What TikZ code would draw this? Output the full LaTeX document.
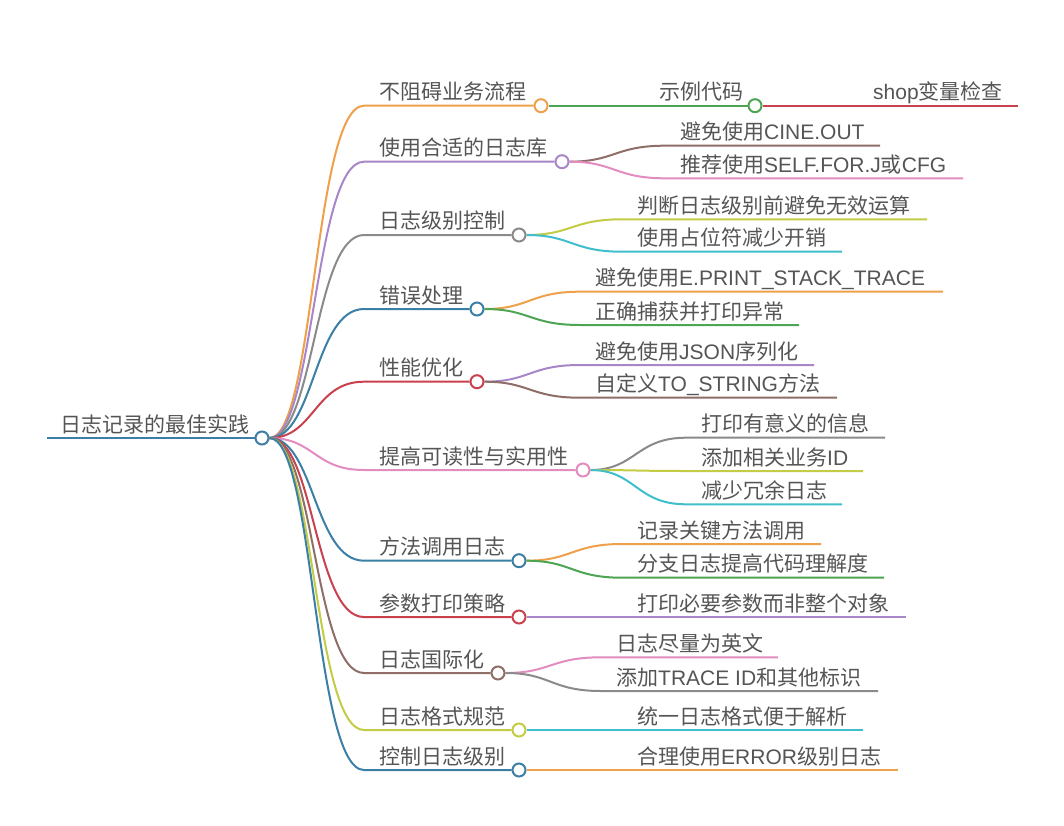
\documentclass[tikz,border=0pt]{standalone}
\usepackage{fontspec}
\setmainfont{Noto Sans CJK SC}
\newfontfamily\latinfont{Liberation Sans}
\newcommand\lat[1]{{\latinfont #1}}
\definecolor{mmblue}{HTML}{3C7FA6}
\definecolor{mmorange}{HTML}{EFA04A}
\definecolor{mmpurple}{HTML}{A887C9}
\definecolor{mmgray}{HTML}{8A8A8A}
\definecolor{mmred}{HTML}{C8414D}
\definecolor{mmpink}{HTML}{E38CC0}
\definecolor{mmbrown}{HTML}{8E6E66}
\definecolor{mmygreen}{HTML}{C3CC45}
\definecolor{mmcyan}{HTML}{3FBFCC}
\definecolor{mmgreen}{HTML}{4DA553}
\definecolor{txt}{HTML}{555555}
\pgfdeclarelayer{bg}
\pgfdeclarelayer{paper}
\pgfsetlayers{paper,bg,main}
\tikzset{
  lbl/.style={anchor=base west, inner sep=0pt, text=txt, font=\fontsize{21}{25}\selectfont},
  circ/.style={circle, minimum size=13pt, inner sep=0pt, line width=2pt, fill=white},
  conn/.style={line width=2pt},
}
% internal node: name, parent, colour, start x, y, circle x, text
\newcommand\mmnode[7]{%
  \coordinate (#1s) at (#4,#5);
  \node[lbl] (#1t) at (#4+15,#5-6) {#7};
  \node[circ,draw=#3] (#1) at (#6,#5) {};
  \begin{pgfonlayer}{bg}
    \draw[conn,#3] (#2.east) .. controls +(45,0) and +(-50,0) .. (#1s) -- (#1.west);
  \end{pgfonlayer}}
% leaf: name, parent, colour, start x, y, end x, text
\newcommand\mmleaf[7]{%
  \coordinate (#1s) at (#4,#5);
  \coordinate (#1e) at (#6,#5);
  \node[lbl] (#1t) at (#4+15,#5-6) {#7};
  \begin{pgfonlayer}{bg}
    \draw[conn,#3] (#2.east) .. controls +(45,0) and +(-50,0) .. (#1s) -- (#1e);
  \end{pgfonlayer}}
\begin{document}
\begin{tikzpicture}[x=1pt,y=-1pt]
\begin{pgfonlayer}{paper}
  \fill[white] (0,0) rectangle (1064,826);
\end{pgfonlayer}
\useasboundingbox (0,0) rectangle (1064,826);
% root
\coordinate (rs) at (47,438);
\node[lbl] (rt) at (60,432) {日志记录的最佳实践};
\node[circ,draw=mmblue] (r) at (262,438) {};
\begin{pgfonlayer}{bg}
  \draw[conn,mmblue] (rs) -- (r.west);
\end{pgfonlayer}
% level 1
\mmnode{a}{r}{mmorange}{364}{105.7}{541}{不阻碍业务流程}
\mmnode{b}{r}{mmpurple}{364}{161.7}{562}{使用合适的日志库}
\mmnode{c}{r}{mmgray}{364}{235}{519}{日志级别控制}
\mmnode{d}{r}{mmblue}{364}{309}{477}{错误处理}
\mmnode{e}{r}{mmred}{364}{381.7}{477}{性能优化}
\mmnode{f}{r}{mmpink}{364}{470}{583}{提高可读性与实用性}
\mmnode{g}{r}{mmblue}{364}{560.7}{519}{方法调用日志}
\mmnode{h}{r}{mmred}{364}{617}{519}{参数打印策略}
\mmnode{i}{r}{mmbrown}{364}{673}{498}{日志国际化}
\mmnode{j}{r}{mmygreen}{364}{730}{519}{日志格式规范}
\mmnode{k}{r}{mmblue}{364}{770}{519}{控制日志级别}
% level 2 and 3
\mmnode{aa}{a}{mmgreen}{644}{105.7}{755}{示例代码}
\mmleaf{aaa}{aa}{mmred}{858}{105.7}{1018}{\lat{shop}变量检查}
\mmleaf{ba}{b}{mmbrown}{665}{145.7}{880}{避免使用\lat{CINE.OUT}}
\mmleaf{bb}{b}{mmpink}{665}{178.3}{963}{推荐使用\lat{SELF.FOR.J}或\lat{CFG}}
\mmleaf{ca}{c}{mmygreen}{622}{219.3}{927}{判断日志级别前避免无效运算}
\mmleaf{cb}{c}{mmcyan}{622}{251.7}{842}{使用占位符减少开销}
\mmleaf{da}{d}{mmorange}{580}{291.7}{943}{避免使用\lat{E.PRINT\_STACK\_TRACE}}
\mmleaf{db}{d}{mmgreen}{580}{325}{799}{正确捕获并打印异常}
\mmleaf{ea}{e}{mmpurple}{580}{365}{814}{避免使用\lat{JSON}序列化}
\mmleaf{eb}{e}{mmbrown}{580}{397.7}{837}{自定义\lat{TO\_STRING}方法}
\mmleaf{fa}{f}{mmgray}{686}{437.7}{885}{打印有意义的信息}
\mmleaf{fb}{f}{mmygreen}{686}{471}{863}{添加相关业务\lat{ID}}
\mmleaf{fc}{f}{mmcyan}{686}{504.3}{842}{减少冗余日志}
\mmleaf{ga}{g}{mmorange}{622}{544}{821}{记录关键方法调用}
\mmleaf{gb}{g}{mmgreen}{622}{577.7}{884}{分支日志提高代码理解度}
\mmleaf{ha}{h}{mmpurple}{622}{617}{906}{打印必要参数而非整个对象}
\mmleaf{ia}{i}{mmpink}{601}{657.3}{778}{日志尽量为英文}
\mmleaf{ib}{i}{mmgray}{601}{691}{878}{添加\lat{TRACE ID}和其他标识}
\mmleaf{ja}{j}{mmcyan}{622}{730}{863}{统一日志格式便于解析}
\mmleaf{ka}{k}{mmorange}{622}{770}{898}{合理使用\lat{ERROR}级别日志}
\end{tikzpicture}
\end{document}
